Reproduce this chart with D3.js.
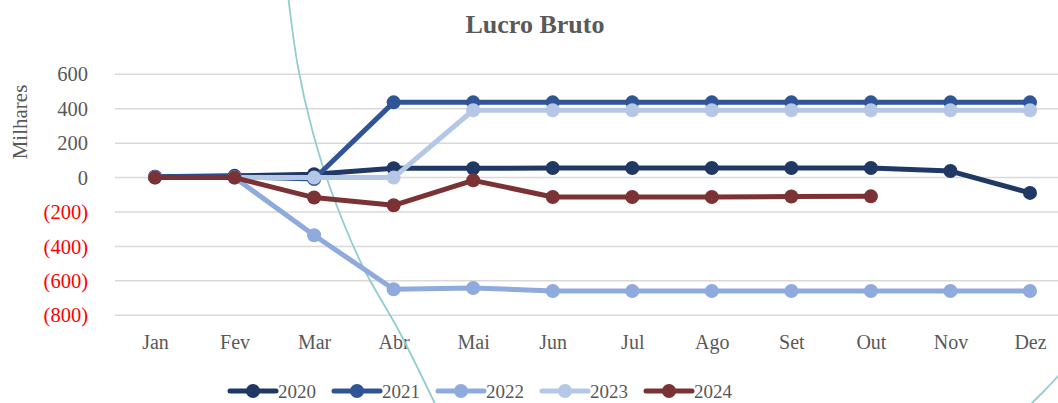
<!DOCTYPE html>
<html>
<head>
<meta charset="utf-8">
<script src="https://cdn.jsdelivr.net/npm/d3@7"></script>
<style>
  body { margin: 0; background: #fff; }
  svg { display: block; font-family: "Liberation Serif", "DejaVu Serif", serif; }
</style>
</head>
<body>
<svg id="chart" width="1058" height="403"></svg>
<script>
const months = ["Jan", "Fev", "Mar", "Abr", "Mai", "Jun", "Jul", "Ago", "Set", "Out", "Nov", "Dez"];
const yTicks = [-800, -600, -400, -200, 0, 200, 400, 600];

// values in thousands (Milhares)
const v2020 = [5, 10, 20, 54, 54, 56, 56, 56, 56, 56, 38, -89];
const v2021 = [5, 5, -8, 437, 437, 437, 437, 437, 437, 437, 437, 437];
const v2022 = [0, 0, -335, -649, -641, -659, -659, -659, -659, -659, -659, -659];
const v2023 = [0, 0, 0, 0, 391, 391, 391, 391, 391, 391, 391, 391];
const v2024 = [0, 0, -116, -161, -16, -113, -113, -113, -110, -109];

const seriesNames = ["2020", "2021", "2022", "2023", "2024"];
const seriesVals = [v2020, v2021, v2022, v2023, v2024];
const colors = ["#203864", "#2f5597", "#8faadc", "#b4c7e7", "#7b3235"];

// decorative background curves (slide artwork behind the chart)
const deco1 = [[288, -5], [298, 67], [313, 133], [332, 193], [363, 267], [400, 333], [438, 410]];
const deco2 = [[1062, 372], [1045, 390], [1030, 405]];

const margin = { top: 74.3, left: 115 };
const W = 1058, H = 403;

const svg = d3.select("#chart");

const x = d3.scalePoint()
    .domain(months)
    .range([155, 1030]);

const y = d3.scaleLinear()
    .domain([-800, 600])
    .range([315.3, 74.3]);

const fmt = d => d < 0 ? "(" + d3.format(",")(-d) + ")" : d3.format(",")(d);

// grid
svg.append("g").selectAll("line")
    .data(yTicks).enter()
    .append("line")
    .attr("x1", margin.left)
    .attr("x2", W)
    .attr("y1", d => y(d))
    .attr("y2", d => y(d))
    .attr("stroke", "#d9d9d9")
    .attr("stroke-width", 1.5);

// y labels
let yAxis = svg.append("g")
    .attr("transform", `translate(${margin.left - 27},0)`)
    .call(d3.axisLeft(y).tickValues(yTicks).tickFormat(fmt).tickSize(0).tickPadding(0));
yAxis.select(".domain").remove();
yAxis.selectAll("text")
    .style("font-family", "Liberation Serif, serif")
    .style("font-size", "20.5px")
    .attr("fill", d => d < 0 ? "#ff0000" : "#595959");

// x labels
let xAxis = svg.append("g")
    .attr("transform", `translate(0,${y(-800)})`)
    .call(d3.axisBottom(x).tickSize(0).tickPadding(20));
xAxis.select(".domain").remove();
xAxis.selectAll("text")
    .style("font-family", "Liberation Serif, serif")
    .style("font-size", "20px")
    .attr("fill", "#595959");

// axis title
svg.append("text")
    .attr("transform", "translate(27,122) rotate(-90)")
    .attr("text-anchor", "middle")
    .style("font-size", "21px")
    .attr("fill", "#595959")
    .text("Milhares");

// chart title
svg.append("text")
    .attr("x", 535)
    .attr("y", 33)
    .attr("text-anchor", "middle")
    .style("font-size", "26px")
    .style("font-weight", "bold")
    .attr("fill", "#595959")
    .text("Lucro Bruto");

// decoration curves
const decoLine = d3.line().curve(d3.curveCatmullRom);
[deco1, deco2].forEach(pts => {
    svg.append("path")
        .attr("d", decoLine(pts))
        .attr("fill", "none")
        .attr("stroke", "#93cdd0")
        .attr("stroke-width", 1.8);
});

// series
const line = d3.line()
    .x((d, i) => x(months[i]))
    .y(d => y(d));

seriesVals.forEach((vals, s) => {
    let g = svg.append("g").attr("class", "series s" + seriesNames[s]);
    g.append("path")
        .attr("d", line(vals))
        .attr("fill", "none")
        .attr("stroke", colors[s])
        .attr("stroke-width", 5)
        .attr("stroke-linejoin", "round");
    g.selectAll("circle")
        .data(vals).enter()
        .append("circle")
        .attr("cx", (d, i) => x(months[i]))
        .attr("cy", d => y(d))
        .attr("r", 7)
        .attr("fill", colors[s]);
});

// legend
const legend = svg.append("g").selectAll("g")
    .data(seriesNames).enter()
    .append("g")
    .attr("transform", (d, i) => `translate(${230 + i * 104},391)`);
legend.append("line")
    .attr("x1", 0).attr("x2", 46)
    .attr("stroke", (d, i) => colors[i])
    .attr("stroke-width", 5)
    .attr("stroke-linecap", "round");
legend.append("circle")
    .attr("cx", 23).attr("r", 7)
    .attr("fill", (d, i) => colors[i]);
legend.append("text")
    .attr("x", 48)
    .attr("y", 7)
    .style("font-size", "19px")
    .attr("fill", "#595959")
    .text(d => d);
</script>
</body>
</html>
